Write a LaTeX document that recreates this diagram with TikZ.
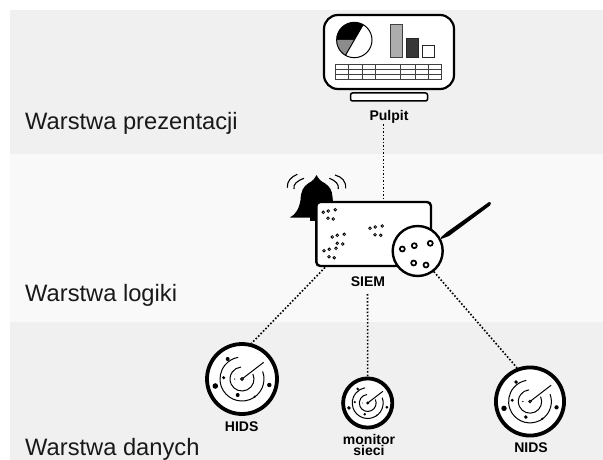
\documentclass[tikz,border=0pt]{standalone}
\usepackage{fontspec}
\setmainfont{Liberation Sans}
\definecolor{banda}{HTML}{F0F0F0}
\definecolor{bandb}{HTML}{F9F9F9}
\tikzset{
  layer/.style={font=\fontsize{23.7}{23.7}\selectfont,anchor=base west,inner sep=0pt,text=black!90},
  lab/.style={font=\fontsize{14}{11.5}\selectfont\bfseries,align=center,inner sep=0pt},
  link/.style={line width=1.6pt,dash pattern=on 1.6pt off 1.9pt},
  port/.style={circle,draw,line width=1.7pt,fill=white,minimum size=5pt,inner sep=0pt},
  pt/.style={circle,draw,line width=0.8pt,fill=white,minimum size=2.6pt,inner sep=0pt},
  radarline/.style={line width=1pt},
  wave/.style={line width=1.1pt}
}
\newcommand{\myradar}[4]{%
  \begin{scope}[shift={(#2,#3)},scale=#4/37,transform shape]
    \node[circle,draw,line width=3.8pt,fill=white,minimum size=70pt,inner sep=0pt] (#1) at (0,0) {};
    \draw[radarline] (0,0) -- (21.7,-16.7);
    \draw[radarline] (-25:12) arc (-25:265:12);
    \draw[radarline] (-20:22) arc (-20:260:22);
    \draw[radarline,fill=white] (0,0) circle (1.3);
    \fill (-14.3,-20) circle (2) (-18.3,-1.3) circle (1.7) (-26.7,7) circle (2.8)
      (-4.3,16) circle (2) (27.3,6) circle (2.2) (12.7,17.7) circle (1.2) (-7.3,0) circle (.7);
  \end{scope}}
\begin{document}
\begin{tikzpicture}[x=1pt,y=-1pt]
\useasboundingbox (0,0) rectangle (603,460);
\fill[white] (0,0) rectangle (603,460);
\fill[banda] (10,10) rectangle (603,154);
\fill[bandb] (10,154) rectangle (603,322);
\fill[banda] (10,322) rectangle (603,460);
\node[layer] (l1) at (25,129) {Warstwa prezentacji};
\node[layer] (l2) at (25,301.7) {Warstwa logiki};
\node[layer] (l3) at (25,455) {Warstwa danych};
% monitor
\draw[line width=2.2pt,rounded corners=14pt,fill=white] (324,15) rectangle (454,89);
\draw[line width=1.5pt,rounded corners=2pt,fill=white] (350.5,93) rectangle (427.5,101);
\node[lab] (pulpit) at (389,116.5) {Pulpit};
\coordinate (pd) at (383.5,124);
% pie
\begin{scope}[shift={(354.3,40)}]
  \fill[white] (0,0) circle (17.7);
  \fill[black] (0,0) -- (180:17.7) arc (180:300:17.7) -- cycle;
  \fill[black!45] (0,0) -- (120:17.7) arc (120:180:17.7) -- cycle;
  \draw[line width=1pt] (120:17.7) -- (300:17.7);
  \draw[line width=1pt] (0,0) circle (17.7);
\end{scope}
% bars
\draw[line width=1pt,draw=black!75,fill=black!32] (390.8,24.5) rectangle (402.6,57.2);
\draw[line width=1pt,draw=black!85,fill=black!78] (406.2,38.8) rectangle (418.6,57.2);
\draw[line width=1pt,draw=black!85,fill=white] (422.4,46) rectangle (434.8,57.2);
% table
\draw[line width=1pt,draw=black!75] (335.7,64.7) rectangle (441,79.7);
\draw[line width=1pt,draw=black!75] (335.7,69.7) -- (441,69.7) (335.7,74.7) -- (441,74.7);
\foreach \xx in {348.3,362.3,375.7,400,415,428.3} \draw[line width=1pt,draw=black!75] (\xx,64.7) -- (\xx,79.7);
% bell
\fill (316.7,175) .. controls (318,178) and (320,181) .. (325,183.3)
  .. controls (330,187) and (332,190) .. (332.5,197)
  .. controls (333,205) and (336,212) .. (343,217.5)
  -- (290,217.5) .. controls (296,214) and (299,209) .. (300.5,200)
  .. controls (301,191) and (303,187) .. (308.3,183.3)
  .. controls (313,181) and (315,178) .. (316.7,175) -- cycle;
\fill (310,217) rectangle (323,221);
\draw[wave] (287.3,187.7) .. controls (287,181) and (291,177) .. (297.3,174.3);
\draw[wave] (294,189) .. controls (293,184) and (297,181) .. (304,178.3);
\draw[wave] (345.7,188.3) .. controls (346,181) and (342,177) .. (335,175);
\draw[wave] (338.3,189) .. controls (339,184) and (336,181) .. (329.3,178.3);
% SIEM box
\draw[line width=2.4pt,rounded corners=4pt,fill=white] (316.3,202) rectangle (431,266);
\coordinate (st) at (383.5,201);
\coordinate (sl) at (325,267.5);
\node[lab] (siem) at (368,282) {SIEM};
\coordinate (sb) at (367.5,294);
\foreach \a/\b in {323.3/212.3,328.3/211,335.3/209.7,328/218.3,333.3/219,
  332.3/237,337.3/235.3,344.3/234.3,337.3/243.3,342.7/244,
  324/250.7,329.3/249.3,336/248.3,329/256.7,334.3/257.7,
  370/228.3,375.3/227,382.3/226,375/234.7,380.7/235.3} \node[pt] at (\a,\b) {};
% magnifier
\fill (441,237.2) -- (447,232) -- (489,202) .. controls (491,201) and (492,204) .. (490,205.5) -- (449,236) -- (441,239) -- cycle;
\node[circle,draw,line width=2.4pt,fill=white,minimum size=50pt,inner sep=0pt] (mag) at (417.7,251) {};
\foreach \a/\b in {402.3/249,414.3/245.7,430.3/243.3,413.7/263,426/265} \node[port] at (\a,\b) {};
% radars
\myradar{hids}{242}{379}{37}
\myradar{mon}{367.7}{403}{26}
\myradar{nids}{530}{401.5}{36}
\node[lab] (t1) at (241.7,427) {HIDS};
\node[lab] (t2) at (369,445) {monitor\\sieci};
\node[lab] (t3) at (531,448) {NIDS};
% links
\draw[link] (pd) -- (st);
\draw[link] (sl) -- (hids.75);
\draw[link] (sb) -- (mon.90);
\draw[link] (mag.308) -- (nids.111);
\end{tikzpicture}
\end{document}
